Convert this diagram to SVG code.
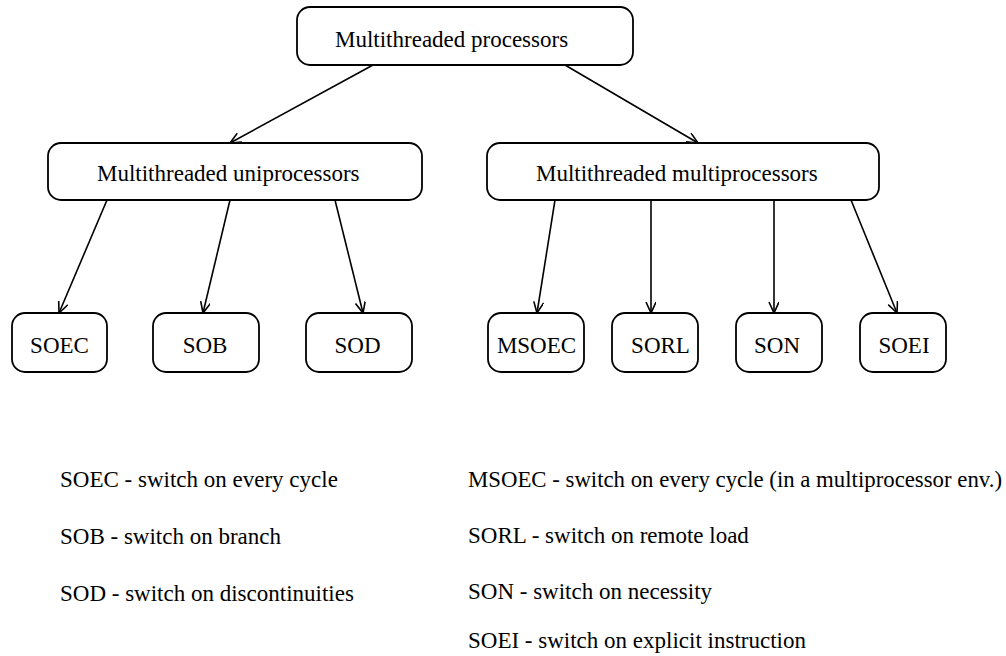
<svg xmlns="http://www.w3.org/2000/svg" width="1006" height="656" viewBox="0 0 1006 656">
  <style>
    .box { fill: #fff; stroke: #000; stroke-width: 1.8; }
    .lbl { font-family: 'Liberation Serif', Tinos, 'Times New Roman', 'DejaVu Serif', serif; font-size: 23px; fill: #000; }
    .edge { fill: none; stroke: #000; stroke-width: 1.6; marker-end: url(#arrow); }
  </style>
  <defs>
    <marker id="arrow" markerUnits="userSpaceOnUse" markerWidth="14" markerHeight="12" refX="12" refY="5" orient="auto">
      <path d="M1,0 L12,5 L1,10" fill="none" stroke="#000" stroke-width="1.6"/>
    </marker>
  </defs>
  <rect width="1006" height="656" fill="#fff"/>

  <!-- hierarchy edges -->
  <g id="connectors">
    <line class="edge" x1="373" y1="65" x2="230" y2="143"/>
    <line class="edge" x1="565" y1="65" x2="698" y2="143"/>
    <line class="edge" x1="107" y1="200" x2="59" y2="313"/>
    <line class="edge" x1="230" y1="200" x2="203" y2="313"/>
    <line class="edge" x1="335" y1="200" x2="363" y2="313"/>
    <line class="edge" x1="555" y1="200" x2="537" y2="313"/>
    <line class="edge" x1="651" y1="200" x2="651" y2="313"/>
    <line class="edge" x1="774" y1="200" x2="774" y2="313"/>
    <line class="edge" x1="851" y1="200" x2="897" y2="313"/>
  </g>

  <g id="root">
    <rect class="box" x="297" y="7" width="336" height="58" rx="13"/>
    <text class="lbl" x="335" y="47">Multithreaded processors</text>
  </g>
  <g id="uni">
    <rect class="box" x="48" y="143" width="374" height="57" rx="13"/>
    <text class="lbl" x="97" y="181">Multithreaded uniprocessors</text>
  </g>
  <g id="multi">
    <rect class="box" x="487" y="143" width="392" height="57" rx="13"/>
    <text class="lbl" x="536" y="181">Multithreaded multiprocessors</text>
  </g>

  <g id="soec">
    <rect class="box" x="12" y="313" width="95" height="59" rx="13"/>
    <text class="lbl" x="59.5" y="353" text-anchor="middle">SOEC</text>
  </g>
  <g id="sob">
    <rect class="box" x="153" y="313" width="106" height="59" rx="13"/>
    <text class="lbl" x="205" y="353" text-anchor="middle">SOB</text>
  </g>
  <g id="sod">
    <rect class="box" x="306" y="313" width="106" height="59" rx="13"/>
    <text class="lbl" x="357.5" y="353" text-anchor="middle">SOD</text>
  </g>
  <g id="msoec">
    <rect class="box" x="488" y="313" width="96" height="59" rx="13"/>
    <text class="lbl" x="536.5" y="353" text-anchor="middle">MSOEC</text>
  </g>
  <g id="sorl">
    <rect class="box" x="612" y="313" width="86" height="59" rx="13"/>
    <text class="lbl" x="660.5" y="353" text-anchor="middle">SORL</text>
  </g>
  <g id="son">
    <rect class="box" x="736" y="313" width="86" height="59" rx="13"/>
    <text class="lbl" x="777" y="353" text-anchor="middle">SON</text>
  </g>
  <g id="soei">
    <rect class="box" x="860" y="313" width="86" height="59" rx="13"/>
    <text class="lbl" x="904" y="353" text-anchor="middle">SOEI</text>
  </g>

  <!-- abbreviation legend -->
  <g id="legend">
    <text class="lbl" x="60" y="487">SOEC - switch on every cycle</text>
    <text class="lbl" x="60" y="544">SOB - switch on branch</text>
    <text class="lbl" x="60" y="601">SOD - switch on discontinuities</text>
    <text class="lbl" x="468" y="487" textLength="534" lengthAdjust="spacingAndGlyphs">MSOEC - switch on every cycle (in a multiprocessor env.)</text>
    <text class="lbl" x="468" y="543">SORL - switch on remote load</text>
    <text class="lbl" x="468" y="599">SON - switch on necessity</text>
    <text class="lbl" x="468" y="648">SOEI - switch on explicit instruction</text>
  </g>
</svg>
